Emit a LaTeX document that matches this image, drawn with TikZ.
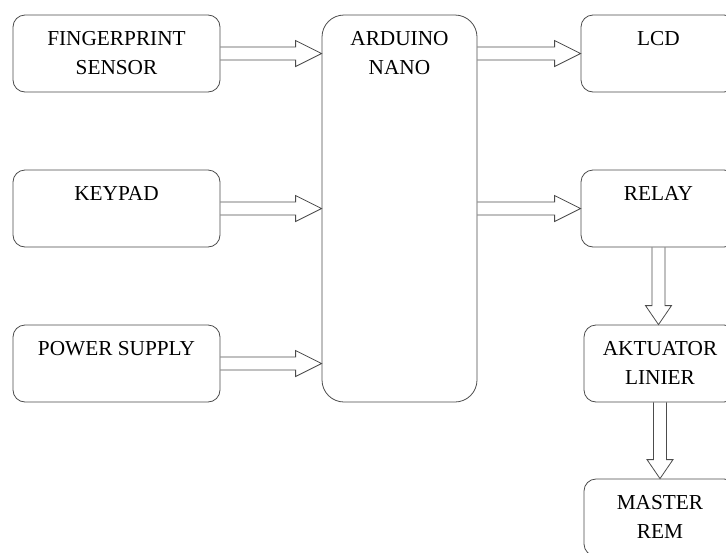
\documentclass[tikz,border=0pt]{standalone}
\usepackage{fontspec}
\setmainfont{Liberation Serif}
\usetikzlibrary{calc}
\newcommand{\isi}[3]{\begin{minipage}[t][#2][t]{#1}\centering\rule{0pt}{30pt}#3\end{minipage}}
\tikzstyle{blok} = [draw=black!70, fill=white, line width=0.8pt,
    rectangle, rounded corners=12pt, inner sep=0pt, font=\fontsize{21.3}{29}\selectfont]
\tikzset{panah/.style={draw=black!70, line width=0.8pt, sharp corners,
    to path={($(\tikztostart)!6.5pt!90:(\tikztotarget)$)
    -- ($(\tikztotarget)!#1!(\tikztostart)!6.5pt!-90:(\tikztostart)$)
    -- ($(\tikztotarget)!#1!(\tikztostart)!13pt!-90:(\tikztostart)$)
    -- (\tikztotarget)
    -- ($(\tikztotarget)!#1!(\tikztostart)!13pt!90:(\tikztostart)$)
    -- ($(\tikztotarget)!#1!(\tikztostart)!6.5pt!90:(\tikztostart)$)
    -- ($(\tikztostart)!6.5pt!-90:(\tikztotarget)$)}},
    panah/.default=26pt}
\begin{document}
\begin{tikzpicture}[x=1pt,y=1pt]
\useasboundingbox (0,0) rectangle (726,-552);
\node [blok] (finger) at (116.5,-53.5) {\isi{207pt}{77pt}{FINGERPRINT\\SENSOR}};
\node [blok] (keypad) at (116.5,-208.5) {\isi{207pt}{77pt}{KEYPAD}};
\node [blok] (power) at (116.5,-363.5) {\isi{207pt}{77pt}{POWER SUPPLY}};
\node [blok, rounded corners=22pt] (arduino) at (399.5,-208.5) {\isi{155pt}{387pt}{ARDUINO\\NANO}};
\node [blok] (lcd) at (658.5,-53.5) {\isi{155pt}{77pt}{LCD}};
\node [blok] (relay) at (658.5,-208.5) {\isi{155pt}{77pt}{RELAY}};
\node [blok] (aktuator) at (660,-363.5) {\isi{152pt}{77pt}{AKTUATOR\\LINIER}};
\node [blok] (master) at (660,-517.5) {\isi{152pt}{77pt}{MASTER\\REM}};
\draw [panah] (finger.east) to (finger.east -| arduino.west);
\draw [panah] (keypad.east) to (keypad.east -| arduino.west);
\draw [panah] (power.east) to (power.east -| arduino.west);
\draw [panah] (arduino.east |- lcd.west) to (lcd.west);
\draw [panah] (arduino.east |- relay.west) to (relay.west);
\draw [panah=19pt] (relay.south) to (relay.south |- aktuator.north);
\draw [panah=19pt] (aktuator.south) to (master.north);
\end{tikzpicture}
\end{document}
